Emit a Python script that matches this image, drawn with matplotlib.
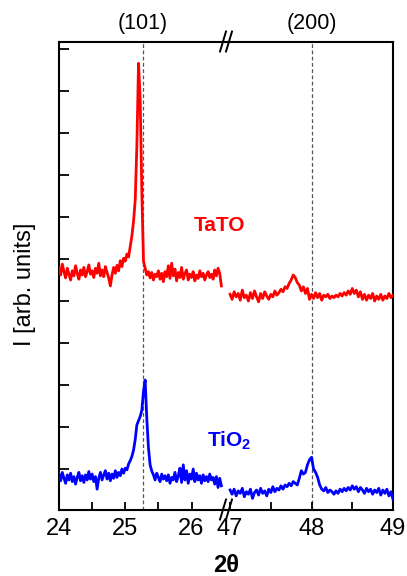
#!/usr/bin/env python3
import numpy as np
import matplotlib
matplotlib.use('Agg')
import matplotlib.pyplot as plt
from matplotlib.lines import Line2D

plt.rcParams['font.family'] = ['Liberation Sans', 'DejaVu Sans']
plt.rcParams['mathtext.fontset'] = 'custom'
plt.rcParams['mathtext.rm'] = 'Liberation Sans'
plt.rcParams['mathtext.bf'] = 'Liberation Sans:bold'

# scan step (deg) and start of each segment
step = 0.025
start_low = 24.0
start_high = 47.0

# TaTO, 24.000 .. 26.450
tato_low = [
    5.80, 5.62, 5.88, 5.70, 5.55, 5.78, 5.64, 5.50, 5.72, 5.60,
    5.84, 5.66, 5.52, 5.74, 5.62, 5.80, 5.58, 5.70, 5.86, 5.64,
    5.72, 5.56, 5.78, 5.66, 5.90, 5.60, 5.74, 5.58, 5.82, 5.68,
    5.55, 5.36, 5.62, 5.80, 5.66, 5.85, 5.72, 5.96, 5.82, 6.02,
    5.95, 6.12, 6.05, 6.30, 6.55, 6.90, 7.40, 8.70, 10.66, 9.80,
    7.60, 5.95, 5.78, 5.62, 5.70,
    5.55, 5.68, 5.50, 5.64, 5.58, 5.72, 5.52, 5.66, 5.46, 5.70,
    5.58, 5.84, 5.54, 5.90, 5.60, 5.76, 5.48, 5.68, 5.56, 5.80,
    5.52, 5.66, 5.74, 5.50, 5.64, 5.56, 5.70, 5.48, 5.62, 5.54,
    5.72, 5.58, 5.66, 5.50, 5.62, 5.70, 5.56, 5.64, 5.52, 5.74,
    5.60, 5.78, 5.66, 5.36,
]
# TaTO, 47.000 .. 49.000
tato_high = [
    5.16, 5.04, 5.22, 5.10, 5.18, 5.02, 5.26, 5.08, 5.14, 5.00,
    5.20, 5.06, 5.24, 5.10, 4.98, 5.18, 5.06, 5.22, 5.12, 5.04,
    5.16, 5.10, 5.24, 5.14, 5.20, 5.28, 5.22, 5.34, 5.30, 5.42,
    5.50, 5.62, 5.56, 5.44, 5.38, 5.24, 5.34, 5.18, 5.30, 5.04,
    5.16, 5.06, 5.20, 5.08, 5.18, 5.02, 5.14, 5.10, 5.16, 5.06,
    5.12, 5.08, 5.14, 5.10, 5.18, 5.12, 5.20, 5.14, 5.24, 5.16,
    5.30, 5.18, 5.26, 5.10, 5.22, 5.04, 5.16, 5.02, 5.14, 5.06,
    5.18, 5.00, 5.12, 5.04, 5.16, 5.02, 5.12, 5.06, 5.18, 5.08,
    5.14,
]
# TiO2, 24.000 .. 26.450
tio2_low = [
    0.88, 0.72, 0.92, 0.78, 0.66, 0.86, 0.74, 0.90, 0.70, 0.82,
    0.64, 0.80, 0.92, 0.72, 0.84, 0.68, 0.86, 0.74, 0.94, 0.76,
    0.88, 0.70, 0.82, 0.52, 0.78, 0.92, 0.74, 0.86, 0.96, 0.76,
    0.90, 0.72, 0.88, 0.78, 0.96, 0.80, 0.92, 0.84, 1.00, 0.90,
    1.02, 0.98, 1.12, 1.20, 1.30, 1.45, 1.70, 2.05, 2.15, 2.25,
    2.40, 2.85, 3.12, 2.20, 1.50, 1.10, 0.95,
    0.86, 0.74, 0.90, 0.80, 0.70, 0.88, 0.76, 0.84, 0.72, 0.86,
    0.66, 0.80, 0.74, 0.92, 0.70, 0.84, 1.02, 0.68, 1.10, 0.74,
    0.96, 0.66, 0.88, 0.76, 1.00, 0.70, 0.90, 0.74, 0.84, 0.66,
    0.86, 0.72, 0.82, 0.70, 0.88, 0.74, 0.80, 0.64, 0.82, 0.56,
    0.78, 0.60,
]
# TiO2, 47.000 .. 49.000
tio2_high = [
    0.50, 0.40, 0.52, 0.36, 0.48, 0.42, 0.54, 0.34, 0.46, 0.40,
    0.52, 0.30, 0.44, 0.50, 0.38, 0.54, 0.42, 0.48, 0.36, 0.52,
    0.44, 0.58, 0.46, 0.54, 0.50, 0.60, 0.52, 0.62, 0.58, 0.66,
    0.60, 0.70, 0.66, 0.62, 0.78, 0.96, 0.88, 0.92, 1.10, 1.22,
    1.28, 1.00, 0.92, 0.80, 0.62, 0.52, 0.48, 0.56, 0.44, 0.50,
    0.46, 0.40, 0.48, 0.42, 0.52, 0.46, 0.54, 0.48, 0.56, 0.50,
    0.60, 0.52, 0.58, 0.46, 0.56, 0.50, 0.42, 0.54, 0.46, 0.52,
    0.40, 0.50, 0.44, 0.54, 0.38, 0.50, 0.42, 0.52, 0.36, 0.46,
    0.28,
]

peak_pos = [25.27, 48.0]
peak_labels = ['(101)', '(200)']
low_ticks = [24, 25, 26]
high_ticks = [47, 48, 49]

x_low = start_low + step * np.arange(len(tato_low))
x_high = start_high + step * np.arange(len(tato_high))

W, H = 407, 576
left, right, top, bottom, brk = 59, 393, 41.5, 509.5, 226

fig = plt.figure(figsize=(W / 100, H / 100), dpi=100)
fig.patch.set_facecolor('white')
ax1 = fig.add_axes([left / W, 1 - bottom / H, (brk - left) / W, (bottom - top) / H])
ax2 = fig.add_axes([brk / W, 1 - bottom / H, (right - brk) / W, (bottom - top) / H])

ax1.plot(x_low, tato_low, color='#ff0000', lw=2.0, zorder=3)
ax1.plot(x_low, tio2_low, color='#0000ff', lw=2.0, zorder=3)
ax2.plot(x_high, tato_high, color='#ff0000', lw=2.0, zorder=3)
ax2.plot(x_high, tio2_high, color='#0000ff', lw=2.0, zorder=3)

for ax, p, lab in zip([ax1, ax2], peak_pos, peak_labels):
    ax.axvline(p, color='#555555', lw=0.9, ls=(0, (3, 2)), zorder=1)
    ax.text(p, 1.015, lab, transform=ax.get_xaxis_transform(), ha='center',
            va='bottom', fontsize=15.5, clip_on=False)
    ax.patch.set_visible(False)
    ax.set_ylim(0.036, 11.18)
    for s in ax.spines.values():
        s.set_linewidth(1.5)
    ax.tick_params(axis='x', direction='in', length=6, width=1.3, labelsize=17,
                   pad=6, top=False, which='both')

ax1.set_xlim(24, 26.52)
ax2.set_xlim(46.95, 49.0)
ax1.set_xticks(low_ticks)
ax1.set_xticks([24.5, 25.5], minor=True)
ax2.set_xticks(high_ticks)
ax2.set_xticks([47.5, 48.5], minor=True)

ax1.spines['right'].set_visible(False)
ax2.spines['left'].set_visible(False)
ax1.set_yticks(range(1, 12))
ax1.set_yticklabels([])
ax1.tick_params(axis='y', direction='in', length=7, width=1.3, right=False)
ax2.set_yticks([])

# break marks
for yb in (top, bottom):
    for dx in (-3, 3):
        xa, xb = brk + dx - 3, brk + dx + 3
        fig.add_artist(Line2D([xa / W, xb / W], [1 - (yb + 10) / H, 1 - (yb - 10) / H],
                              color='black', lw=1.4, transform=fig.transFigure))

ax1.text(26.42, 6.79, 'TaTO', color='#ff0000', fontsize=15, fontweight='bold',
         ha='center', va='center', clip_on=False)
ax2.text(46.99, 1.67, r'$\mathbf{TiO_2}$', color='#0000ff', fontsize=15,
         ha='center', va='center', clip_on=False)

fig.text(25 / W, 1 - 284 / H, 'I [arb. units]', rotation=90, fontsize=17,
         ha='center', va='center')
fig.text(226 / W, 1 - 565 / H, '2θ', fontsize=17, fontweight='bold',
         ha='center', va='center')

fig.savefig('out.png', dpi=100)
